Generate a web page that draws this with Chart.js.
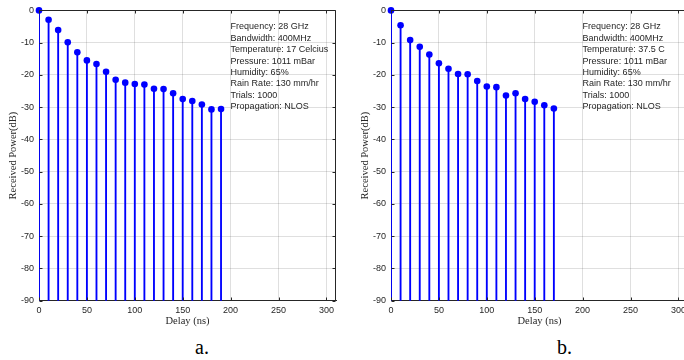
<!DOCTYPE html>
<html><head><meta charset="utf-8">
<script src="https://cdn.jsdelivr.net/npm/chart.js@4"></script>
<style>
html,body{margin:0;padding:0;background:#fff;overflow:hidden;width:684px;height:360px;}
#wrap{position:relative;width:684px;height:360px;overflow:hidden;}
canvas{position:absolute;top:0;}
.cap{position:absolute;font-family:'Liberation Serif','Times New Roman',serif;font-size:20px;line-height:20px;color:#000;top:337px;}
</style></head><body>
<div id="wrap">
<canvas id="ca" width="342" height="330" style="left:0"></canvas>
<canvas id="cb" width="342" height="330" style="left:352px"></canvas>
<div class="cap" style="left:195px">a.</div>
<div class="cap" style="left:557px">b.</div>
</div>
<script>
// ---- data ----
const delaysA = [0,10,20,30,40,50,60,70,80,90,100,110,120,130,140,150,160,170,180,190];
const powerA  = [0,-2.9,-6.1,-9.9,-13.0,-15.5,-16.6,-19.0,-21.5,-22.4,-22.8,-23.0,-24.3,-24.4,-25.7,-27.5,-28.1,-29.2,-30.7,-30.6];
const delaysB = [0,10,20,30,40,50,60,70,80,90,100,110,120,130,140,150,160,170];
const powerB  = [0,-4.6,-9.2,-11.3,-13.7,-16.4,-18.1,-19.7,-19.8,-21.9,-23.6,-23.8,-26.4,-25.7,-27.5,-28.3,-29.4,-30.4];
const xTicks = [0,50,100,150,200,250,300];
const yTicks = [-90,-80,-70,-60,-50,-40,-30,-20,-10,0];
const infoA = ['Frequency: 28 GHz','Bandwidth: 400MHz','Temperature: 17 Celcius','Pressure: 1011 mBar','Humidity: 65%','Rain Rate: 130 mm/hr','Trials: 1000','Propagation: NLOS'];
const infoB = ['Frequency: 28 GHz','Bandwidth: 400MHz','Temperature: 37.5 C','Pressure: 1011 mBar','Humidity: 65%','Rain Rate: 130 mm/hr','Trials: 1000','Propagation: NLOS'];
const xTitle = 'Delay (ns)';
const yTitle = 'Received Power(dB)';
const BASE = -90;

const AX = '#262626';
const GRID = 'rgba(38,38,38,0.15)';
const BLUE = '#0000ff';

const boxPlugin = {
  id: 'boxInfo',
  afterDatasetsDraw(chart, args, opts) {
    const {ctx, chartArea: {left, right, top, bottom}, scales: {x, y}} = chart;
    ctx.save();
    ctx.strokeStyle = AX; ctx.lineWidth = 1;
    const L = Math.round(left) + 0.5, R = Math.round(right) - 0.5, T = Math.round(top) + 0.5, B = Math.round(bottom) - 0.5;
    ctx.beginPath();
    ctx.moveTo(L, T); ctx.lineTo(R, T); ctx.lineTo(R, B);
    const tl = 3;
    xTicks.forEach(v => {
      const px = Math.round(x.getPixelForValue(v)) + 0.5;
      ctx.moveTo(px, B); ctx.lineTo(px, B - tl);
      ctx.moveTo(px, T); ctx.lineTo(px, T + tl);
    });
    yTicks.forEach(v => {
      const py = Math.round(y.getPixelForValue(v)) + 0.5;
      ctx.moveTo(L, py); ctx.lineTo(L + tl, py);
      ctx.moveTo(R, py); ctx.lineTo(R - tl, py);
    });
    ctx.stroke();
    // annotation
    ctx.fillStyle = AX;
    ctx.font = '9px "Liberation Sans", Arial, sans-serif';
    ctx.textBaseline = 'middle';
    ctx.textAlign = 'left';
    const x0 = x.getPixelForValue(opts.tx);
    const y0 = y.getPixelForValue(opts.ty);
    opts.lines.forEach((s, i) => ctx.fillText(s, x0, y0 + i * 11.4));
    ctx.restore();
  }
};

function makeChart(id, delays, power, info) {
  return new Chart(document.getElementById(id), {
    type: 'bar',
    data: {
      datasets: [
        {
          type: 'bar',
          data: delays.map((d, i) => ({x: d, y: [BASE, power[i]]})),
          backgroundColor: BLUE,
          borderWidth: 0,
          barThickness: 1.2,
          order: 2
        },
        {
          type: 'scatter',
          data: delays.map((d, i) => ({x: d, y: power[i]})),
          backgroundColor: BLUE,
          borderColor: BLUE,
          borderWidth: 0,
          pointRadius: 3.3,
          clip: false,
          order: 1
        }
      ]
    },
    options: {
      responsive: false,
      animation: false,
      events: [],
      layout: {padding: {top: 8, right: 6, left: 0, bottom: 0}},
      plugins: {
        legend: {display: false},
        tooltip: {enabled: false},
        boxInfo: {lines: info, tx: 200, ty: -5.1}
      },
      scales: {
        x: {
          type: 'linear',
          min: 0, max: 310,
          offset: false,
          afterBuildTicks: s => { s.ticks = xTicks.map(v => ({value: v})); },
          afterFit: s => { s.height = 29.3; },
          grid: {color: GRID, drawTicks: false, offset: false},
          border: {color: AX, width: 1},
          ticks: {color: AX, padding: 4, font: {family: '"Liberation Sans", Arial, sans-serif', size: 9}, maxRotation: 0},
          title: {display: true, text: xTitle, color: AX, padding: {top: 0, bottom: 2.7}, font: {family: '"Liberation Serif", "Times New Roman", serif', size: 10.5}}
        },
        y: {
          type: 'linear',
          min: -90, max: 0,
          afterBuildTicks: s => { s.ticks = yTicks.map(v => ({value: v})); },
          afterFit: s => { s.width = 39; },
          grid: {color: GRID, drawTicks: false},
          border: {color: AX, width: 1},
          ticks: {color: AX, padding: 5, font: {family: '"Liberation Sans", Arial, sans-serif', size: 9}},
          title: {display: true, text: yTitle, color: AX, padding: {top: 6.7, bottom: 0}, font: {family: '"Liberation Serif", "Times New Roman", serif', size: 10.5}}
        }
      }
    },
    plugins: [boxPlugin]
  });
}

makeChart('ca', delaysA, powerA, infoA);
makeChart('cb', delaysB, powerB, infoB);
</script>
</body></html>
